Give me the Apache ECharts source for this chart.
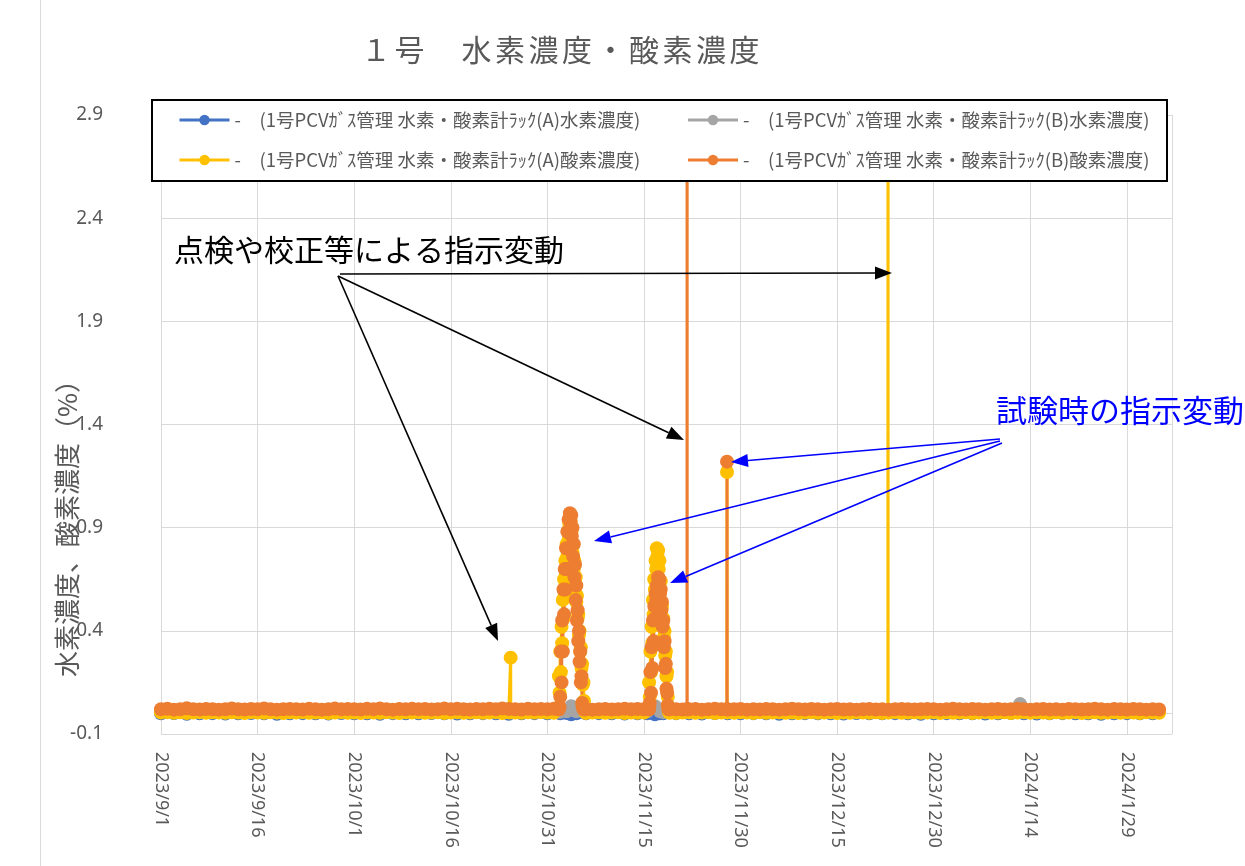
<!DOCTYPE html>
<html><head><meta charset="utf-8">
<script src="https://cdn.jsdelivr.net/npm/echarts@6/dist/echarts.min.js"></script>
<style>html,body{margin:0;padding:0;background:#fff}#c{width:1245px;height:866px}</style>
</head><body><div id="c"></div>
<script>
// ---------- text ----------
const titleText = '１号\u3000水素濃度・酸素濃度';
const yAxisTitle = '水素濃度、酸素濃度（%）';
const seriesNames = [
  '-\u3000(1号PCVｶﾞｽ管理 水素・酸素計ﾗｯｸ(A)水素濃度)',
  '-\u3000(1号PCVｶﾞｽ管理 水素・酸素計ﾗｯｸ(B)水素濃度)',
  '-\u3000(1号PCVｶﾞｽ管理 水素・酸素計ﾗｯｸ(A)酸素濃度)',
  '-\u3000(1号PCVｶﾞｽ管理 水素・酸素計ﾗｯｸ(B)酸素濃度)'
];
const seriesColors = ['#4472C4', '#A5A5A5', '#FFC000', '#ED7D31'];
const noteBlack = '点検や校正等による指示変動';
const noteBlue = '試験時の指示変動';

// ---------- axes (x = days since 2023/9/1) ----------
const xStart = [2023, 9, 1];
const xMin = 0, xMax = 157, xStep = 15;
const yMin = -0.1, yMax = 2.9, yStep = 0.5;

// ---------- daily baseline readings (oxygen) ----------
const baseDays = [
  0,1,2,3,4,5,6,7,8,9,
  10,11,12,13,14,15,16,17,18,19,
  20,21,22,23,24,25,26,27,28,29,
  30,31,32,33,34,35,36,37,38,39,
  40,41,42,43,44,45,46,47,48,49,
  50,51,52,53,54,55,56,57,58,59,
  60,61,66,67,68,69,70,71,72,73,
  74,75,79,80,81,82,83,84,85,86,87,88,
  89,90,91,92,93,94,95,96,97,98,
  99,100,101,102,103,104,105,106,107,108,
  109,110,111,112,113,114,115,116,117,118,
  119,120,121,122,123,124,125,126,127,128,
  129,130,131,132,133,134,135,136,137,138,
  139,140,141,142,143,144,145,146,147,148,
  149,150,151,152,153,154,155
];
const o2ABase = [
  0.004,0.006,0.003,0.005,0.002,0.004,0.006,0.003,0.005,0.004,
  0.003,0.005,0.004,0.002,0.006,0.004,0.003,0.005,0.004,0.002,
  0.005,0.004,0.006,0.003,0.004,0.005,0.002,0.004,0.006,0.003,
  0.004,0.002,0.005,0.004,0.003,0.006,0.004,0.002,0.005,0.004,
  0.006,0.003,0.004,0.005,0.002,0.004,0.006,0.003,0.004,0.005,
  0.003,0.004,0.006,0.002,0.005,0.004,0.003,0.005,0.004,0.006,
  0.004,0.003,0.002,0.004,0.005,0.003,0.004,0.006,0.002,0.004,
  0.003,0.004,0.003,0.002,0.004,0.005,0.003,0.004,0.006,0.002,0.004,0.005,
  0.003,0.005,0.004,0.002,0.006,0.003,0.004,0.005,0.003,0.004,
  0.002,0.004,0.006,0.003,0.004,0.005,0.002,0.004,0.003,0.006,
  0.004,0.003,0.005,0.002,0.004,0.006,0.003,0.004,0.005,0.003,
  0.004,0.006,0.002,0.005,0.003,0.004,0.005,0.002,0.004,0.006,
  0.003,0.004,0.005,0.002,0.004,0.006,0.003,0.005,0.004,0.002,
  0.005,0.003,0.004,0.006,0.002,0.004,0.005,0.003,0.004,0.006,
  0.003,0.005,0.004,0.002,0.006,0.004,0.003
];
const o2BBase = [
  0.02,0.022,0.018,0.02,0.025,0.02,0.019,0.021,0.02,0.018,
  0.02,0.023,0.02,0.019,0.021,0.02,0.024,0.02,0.018,0.02,
  0.021,0.02,0.019,0.022,0.02,0.018,0.02,0.023,0.02,0.021,
  0.02,0.019,0.022,0.02,0.024,0.02,0.018,0.021,0.02,0.022,
  0.02,0.021,0.019,0.02,0.023,0.02,0.022,0.02,0.019,0.021,
  0.02,0.022,0.02,0.024,0.021,0.02,0.019,0.022,0.02,0.021,
  0.02,0.022,0.02,0.018,0.02,0.021,0.019,0.02,0.022,0.02,
  0.021,0.02,0.02,0.02,0.019,0.02,0.021,0.018,0.02,0.022,0.02,0.019,
  0.02,0.021,0.018,0.02,0.019,0.021,0.02,0.018,0.02,0.022,
  0.02,0.019,0.021,0.02,0.018,0.02,0.021,0.019,0.02,0.018,
  0.02,0.021,0.019,0.02,0.018,0.02,0.021,0.02,0.019,0.02,
  0.021,0.02,0.018,0.02,0.022,0.02,0.019,0.021,0.02,0.018,
  0.02,0.021,0.019,0.02,0.022,0.02,0.018,0.02,0.021,0.019,
  0.02,0.018,0.021,0.02,0.019,0.02,0.022,0.02,0.018,0.021,
  0.02,0.019,0.021,0.02,0.018,0.02,0.019
];

// ---------- test period 1 (2023/11/1 - 11/5), readings every 0.1 day ----------
const peak1Days = [
  61.7,61.8,61.9,
  62.0,62.1,62.2,62.3,62.4,62.5,62.6,62.7,62.8,62.9,
  63.0,63.1,63.2,63.3,63.4,63.5,63.6,63.7,63.8,63.9,
  64.0,64.1,64.2,64.3,64.4,64.5,64.6,64.7,64.8,64.9,
  65.0,65.1,65.2,65.3,65.4,65.5,65.6,65.7,65.8,65.9
];
const o2APeak1 = [
  0.03,0.18,0.1,
  0.3,0.2,0.42,0.34,0.55,0.46,0.65,0.58,0.74,0.68,
  0.82,0.76,0.88,0.84,0.92,0.9,0.93,0.86,0.89,0.78,
  0.82,0.7,0.74,0.62,0.66,0.54,0.57,0.46,0.48,0.38,
  0.4,0.3,0.32,0.22,0.24,0.14,0.15,0.06,0.03,0.005
];
const o2BPeak1 = [
  0.02,0.02,0.03,
  0.08,0.3,0.15,0.45,0.3,0.6,0.48,0.7,0.6,0.8,
  0.7,0.88,0.8,0.94,0.88,0.97,0.93,0.96,0.86,0.9,
  0.76,0.82,0.66,0.72,0.55,0.62,0.45,0.5,0.35,0.4,
  0.25,0.3,0.15,0.18,0.05,0.03,0.02,0.02,0.02,0.02
];

// ---------- test period 2 (2023/11/16 - 11/19) ----------
const peak2Days = [
  75.7,75.8,75.9,
  76.0,76.1,76.2,76.3,76.4,76.5,76.6,76.7,76.8,76.9,
  77.0,77.1,77.2,77.3,77.4,77.5,77.6,77.7,77.8,77.9,
  78.0,78.1,78.2,78.3,78.4,78.5,78.6,78.7,78.8,78.9
];
const o2APeak2 = [
  0.03,0.15,0.08,
  0.3,0.2,0.42,0.34,0.55,0.48,0.65,0.6,0.74,0.7,
  0.8,0.76,0.79,0.7,0.74,0.6,0.64,0.5,0.52,0.44,
  0.46,0.37,0.4,0.28,0.3,0.18,0.2,0.08,0.03,0.005
];
const o2BPeak2 = [
  0.02,0.02,0.05,
  0.2,0.1,0.32,0.22,0.45,0.35,0.52,0.46,0.58,0.55,
  0.62,0.6,0.66,0.63,0.65,0.58,0.6,0.5,0.54,0.42,
  0.45,0.32,0.35,0.22,0.24,0.12,0.1,0.04,0.02,0.02
];

// ---------- isolated spikes (calibration / inspection) ----------
const o2ASpikeDays = [54.28,54.3,54.32, 87.88,87.9,87.92, 112.88,112.9,112.92];
const o2ASpikeVals = [0.005,0.27,0.005, 0.005,1.17,0.005, 0.005,4.5,0.005];
const o2BSpikeDays = [81.68,81.7,81.72, 87.88,87.9,87.92];
const o2BSpikeVals = [0.02,4.5,0.02, 0.02,1.22,0.02];

// ---------- hydrogen readings ----------
const h2Days = [
  0,2,4,6,8,10,12,14,16,18,
  20,22,24,26,28,30,32,34,36,38,
  40,42,44,46,48,50,52,54,56,58,
  60,62,63,63.7,64.5,66,68,70,72,74,
  75.5,76.7,77.5,78,80,82,84,86,88,90,
  92,94,96,98,100,102,104,106,108,110,
  112,114,116,118,120,122,124,126,128,130,
  132,133.4,134,136,138,140,142,144,146,148,
  150,152,154
];
const h2A = [
  0.0,0.002,-0.002,0.0,0.001,-0.001,0.0,0.002,0.0,-0.002,
  0.0,0.001,0.0,-0.001,0.002,0.0,0.0,-0.002,0.001,0.0,
  0.0,0.002,0.0,-0.001,0.0,0.001,0.0,-0.002,0.0,0.001,
  0.0,0.0,0.002,-0.004,0.0,0.0,0.001,0.0,-0.001,0.0,
  0.0,-0.004,0.0,0.0,0.001,0.0,-0.001,0.002,0.0,0.0,
  0.001,0.0,-0.002,0.0,0.001,0.0,0.0,-0.001,0.002,0.0,
  0.0,0.001,0.0,-0.002,0.0,0.001,0.0,0.0,-0.001,0.0,
  0.002,0.01,0.0,-0.001,0.0,0.001,0.0,0.0,-0.002,0.0,
  0.001,0.0,0.0
];
const h2B = [
  0.006,0.008,0.005,0.006,0.007,0.005,0.006,0.008,0.006,0.005,
  0.006,0.007,0.006,0.005,0.008,0.006,0.006,0.005,0.007,0.006,
  0.006,0.008,0.006,0.005,0.006,0.007,0.006,0.005,0.006,0.007,
  0.006,0.008,0.01,0.035,0.01,0.006,0.007,0.006,0.005,0.006,
  0.01,0.035,0.01,0.006,0.007,0.006,0.005,0.008,0.006,0.006,
  0.007,0.006,0.005,0.006,0.007,0.006,0.006,0.005,0.008,0.006,
  0.006,0.007,0.006,0.005,0.006,0.007,0.006,0.006,0.005,0.006,
  0.008,0.045,0.006,0.005,0.006,0.007,0.006,0.006,0.005,0.006,
  0.007,0.006,0.006
];

// ---------- build ----------
function pairs(xs, ys) { return xs.map((x, i) => [x, ys[i]]); }
function merged(parts) { return [].concat.apply([], parts).sort((p, q) => p[0] - q[0]); }
const seriesData = [
  pairs(h2Days, h2A),
  pairs(h2Days, h2B),
  merged([pairs(baseDays, o2ABase), pairs(peak1Days, o2APeak1), pairs(peak2Days, o2APeak2), pairs(o2ASpikeDays, o2ASpikeVals)]),
  merged([pairs(baseDays, o2BBase), pairs(peak1Days, o2BPeak1), pairs(peak2Days, o2BPeak2), pairs(o2BSpikeDays, o2BSpikeVals)])
];

function dayLabel(v) {
  const r = v / xStep;
  if (Math.abs(r - Math.round(r)) > 1e-6) return '';
  const d = new Date(Date.UTC(xStart[0], xStart[1] - 1, xStart[2]) + Math.round(v) * 864e5);
  return d.getUTCFullYear() + '/' + (d.getUTCMonth() + 1) + '/' + d.getUTCDate();
}

const FONT = '"Noto Sans CJK JP", "Noto Sans", sans-serif';
const GRAY = '#595959';

function arrow(x1, y1, x2, y2, color) {
  const ang = Math.atan2(y2 - y1, x2 - x1);
  const L = 17, W = 6.5;
  const bx = x2 - L * Math.cos(ang), by = y2 - L * Math.sin(ang);
  const px = -Math.sin(ang) * W, py = Math.cos(ang) * W;
  return [
    { type: 'line', z: 100, shape: { x1: x1, y1: y1, x2: bx, y2: by }, style: { stroke: color, lineWidth: 1.6 } },
    { type: 'polygon', z: 100, shape: { points: [[x2, y2], [bx + px, by + py], [bx - px, by - py]] }, style: { fill: color } }
  ];
}
function txt(x, y, s, size, color, align) {
  return { type: 'text', z: 100, style: { x: x, y: y, text: s, fill: color, font: size + 'px ' + FONT,
    align: align, verticalAlign: 'middle', textAlign: align, textVerticalAlign: 'middle' } };
}
// title characters laid out with the reference's wide letter pitch
const titleChars = Array.from(titleText).map((ch, i) => txt(376 + i * 33.5, 50, ch, 30, GRAY, 'center'));

const graphics = [
  { type: 'line', z: 0, shape: { x1: 40.5, y1: 0, x2: 40.5, y2: 866 }, style: { stroke: '#D9D9D9', lineWidth: 1 } },
  { type: 'rect', z: 3, shape: { x: 152, y: 100, width: 1015, height: 81 }, style: { fill: '#ffffff', stroke: '#000000', lineWidth: 2 } },
  { type: 'text', z: 100, rotation: Math.PI / 2, x: 67, y: 522, style: { x: 0, y: 0, text: yAxisTitle, fill: GRAY, font: '26px ' + FONT, align: 'center', verticalAlign: 'middle', textAlign: 'center', textVerticalAlign: 'middle' } },
  txt(174, 250, noteBlack, 30, '#000000', 'left'),
  txt(996, 410, noteBlue, 31, '#0000FF', 'left')
].concat(titleChars)
  .concat(arrow(338, 276, 498, 641, '#000'))
  .concat(arrow(338, 276, 684, 440, '#000'))
  .concat(arrow(340, 274, 892, 273, '#000'))
  .concat(arrow(1000, 439, 731, 462, '#0000FF'))
  .concat(arrow(1000, 441, 594, 541, '#0000FF'))
  .concat(arrow(1002, 443, 670, 583, '#0000FF'));

const legendBase = {
  left: 178, padding: 0,
  itemWidth: 50, itemHeight: 13, itemGap: 34,
  lineStyle: { width: 3 },
  textStyle: { fontFamily: FONT, fontSize: 18.5, color: GRAY, width: 418, lineHeight: 20, overflow: 'none' }
};

const chart = echarts.init(document.getElementById('c'), null, { renderer: 'canvas' });
chart.setOption({
  animation: false,
  backgroundColor: '#ffffff',
  grid: { left: 161, right: 73, top: 115, bottom: 132, containLabel: false, outerBoundsMode: 'none' },
  legend: [
    Object.assign({}, legendBase, { top: 110, data: [seriesNames[0], seriesNames[1]] }),
    Object.assign({}, legendBase, { top: 150, data: [seriesNames[2], seriesNames[3]] })
  ],
  xAxis: {
    type: 'value', min: xMin, max: xMax, interval: xStep,
    axisLine: { show: true, lineStyle: { color: '#D9D9D9', width: 1 } },
    axisTick: { show: false },
    splitLine: { show: true, lineStyle: { color: '#D9D9D9', width: 1 } },
    axisLabel: { rotate: -90, margin: 18, fontSize: 18, color: GRAY, fontFamily: '"Noto Sans", sans-serif', formatter: dayLabel, showMaxLabel: false }
  },
  yAxis: {
    type: 'value', min: yMin, max: yMax, interval: yStep,
    axisLine: { show: false }, axisTick: { show: false },
    splitLine: { show: true, lineStyle: { color: '#D9D9D9', width: 1 } },
    axisLabel: { margin: 58, fontSize: 19, color: GRAY, fontFamily: '"Noto Sans", sans-serif', formatter: v => v.toFixed(1) }
  },
  series: seriesNames.map((n, i) => ({
    name: n, type: 'line', data: seriesData[i],
    symbol: 'circle', symbolSize: 14, showSymbol: true,
    lineStyle: { color: seriesColors[i], width: 3 },
    itemStyle: { color: seriesColors[i] },
    clip: true, z: 2
  })),
  graphic: graphics
});
</script></body></html>
